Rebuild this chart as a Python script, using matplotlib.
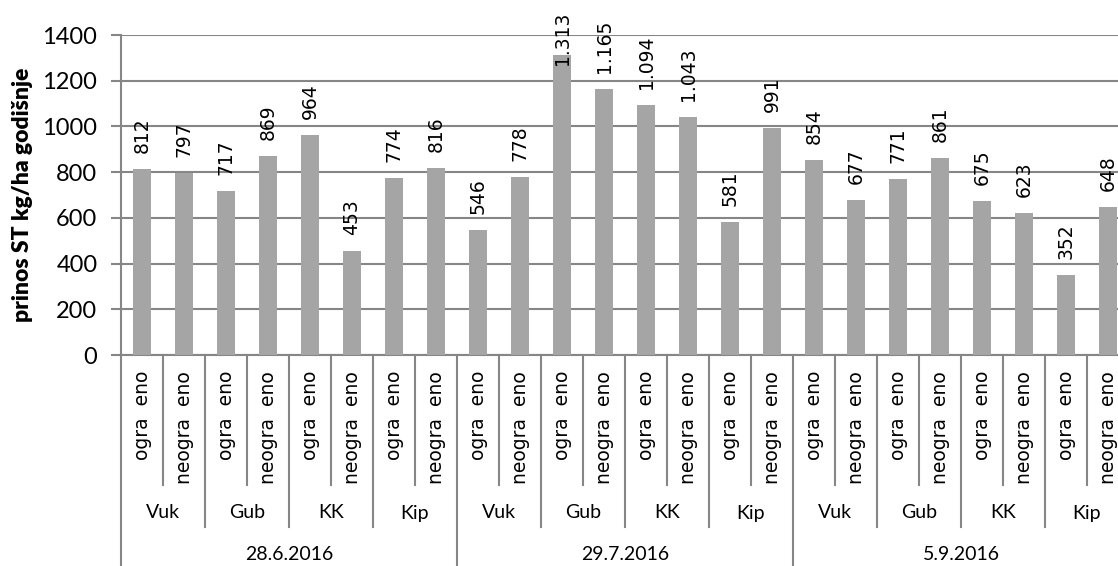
import matplotlib
matplotlib.use("Agg")
import matplotlib.pyplot as plt
from matplotlib.transforms import blended_transform_factory
from matplotlib.lines import Line2D

dates = ["28.6.2016", "29.7.2016", "5.9.2016"]
sites = ["Vuk", "Gub", "KK", "Kip"]
treatments = ["ogra  eno", "neogra  eno"]
values = [812, 797, 717, 869, 964, 453, 774, 816,
          546, 778, 1313, 1165, 1094, 1043, 581, 991,
          854, 677, 771, 861, 675, 623, 352, 648]
value_labels = ["812", "797", "717", "869", "964", "453", "774", "816",
                "546", "778", "1.313", "1.165", "1.094", "1.043", "581", "991",
                "854", "677", "771", "861", "675", "623", "352", "648"]
yticks = [0, 200, 400, 600, 800, 1000, 1200, 1400]

W, H = 1118, 566
fig = plt.figure(figsize=(W / 100, H / 100), dpi=100)
ax_left, ax_right, ax_top, ax_bot = 121, 1129, 35, 355
ax = fig.add_axes([ax_left / W, 1 - ax_bot / H, (ax_right - ax_left) / W, (ax_bot - ax_top) / H])

grid_c = "#868686"
bar_c = "#A5A5A5"
n = len(values)
xs = list(range(n))
ax.bar(xs, values, width=0.41, color=bar_c, zorder=3)
ax.set_xlim(-0.5, n - 0.5)
ax.set_ylim(0, 1400)
ax.set_yticks(yticks)
ax.set_yticklabels([str(t) for t in yticks], fontsize=17, family="Lato")
ax.yaxis.grid(True, color=grid_c, linewidth=1.5, zorder=0)
ax.tick_params(axis="y", length=7, width=1.5, color=grid_c, pad=10)
ax.set_xticks([])
for s in ["top", "right"]:
    ax.spines[s].set_visible(False)
for s in ["left", "bottom"]:
    ax.spines[s].set_color(grid_c)
    ax.spines[s].set_linewidth(1.5)
ax.set_ylabel("prinos ST kg/ha godišnje", fontsize=16.5, family="Lato", fontweight="heavy")
ax.yaxis.set_label_coords((23 - ax_left) / (ax_right - ax_left), 0.5)
ax.yaxis.label.set_va("center")

# data labels
px_per_unit = (ax_bot - ax_top) / 1400
for i, (v, lab) in enumerate(zip(values, value_labels)):
    bar_top_px = ax_bot - v * px_per_unit
    label_bottom_px = bar_top_px - 16
    est_len = 11.5 * len(lab)
    if label_bottom_px - est_len < 12:
        ax.text(i, 1 - 12 / H, lab, transform=blended_transform_factory(ax.transData, fig.transFigure),
                rotation=90, ha="center", va="top", fontsize=13.5, family="DejaVu Sans", clip_on=False, zorder=5)
    else:
        ax.annotate(lab, (i, v), xytext=(0, 16 * 72 / 100), textcoords="offset points",
                    rotation=90, ha="center", va="bottom", fontsize=13.5, family="DejaVu Sans",
                    annotation_clip=False, zorder=5)

# hierarchical category axis
tr = blended_transform_factory(ax.transData, fig.transFigure)
def fy(px):
    return 1 - px / H

for b in range(n + 1):
    x = b - 0.5
    if b % 8 == 0:
        y2 = H
    elif b % 2 == 0:
        y2 = 527
    else:
        y2 = 485
    fig.add_artist(Line2D([x, x], [fy(ax_bot), fy(y2)], transform=tr, color=grid_c, linewidth=1.5, clip_on=False))

for i in range(n):
    fig.text(i, fy(371), treatments[i % 2], transform=tr, rotation=90, ha="center", va="top",
             fontsize=13.5, family="DejaVu Sans")
for g in range(n // 2):
    fig.text(2 * g + 0.5, fy(513), sites[g % 4], transform=tr, ha="center", va="center",
             fontsize=14, family="Lato")
for d in range(len(dates)):
    fig.text(8 * d + 3.5, fy(554), dates[d], transform=tr, ha="center", va="center",
             fontsize=14, family="Lato")

fig.savefig("out.png", dpi=100)
